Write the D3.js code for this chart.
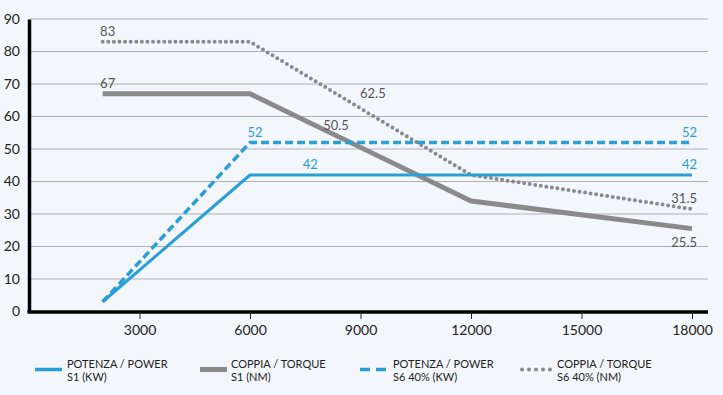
<!DOCTYPE html>
<html>
<head>
<meta charset="utf-8">
<script src="https://cdn.jsdelivr.net/npm/d3@7"></script>
<style>
  body { margin: 0; background: #f3f7fc; }
  text { font-family: "Lato", "Open Sans", sans-serif; }
</style>
</head>
<body>
<div id="chart"></div>
<script>
// speed values (rpm) and series
const rpm = [2000, 6000, 9000, 12000, 18000];
const powerS1 = [3, 42, 42, 42, 42];
const torqueS1 = [67, 67, 50.5, 34, 25.5];
const powerS6 = [3, 52, 52, 52, 52];
const torqueS6 = [83, 83, 62.5, 42, 31.5];

const xTicks = [3000, 6000, 9000, 12000, 15000, 18000];
const yTicks = [0, 10, 20, 30, 40, 50, 60, 70, 80, 90];

// value labels: [rpm, value, text, series]
const labels = [
  [2000, 83, "83", "t6"], [2000, 67, "67", "t1"],
  [6000, 52, "52", "p6"], [7500, 42, "42", "p1"],
  [8200, 50.5, "50.5", "t1"], [9200, 62.5, "62.5", "t6"],
  [18000, 52, "52", "p6"], [18000, 42, "42", "p1"],
  [18000, 31.5, "31.5", "t6"], [18000, 25.5, "25.5", "t1"]
];
// vertical label offsets in px (same order as labels)
const labelDy = [-6, -6, -6, -6, -17, -10, -6, -6, -6, 18];

const legendNames = [
  ["POTENZA / POWER", "S1 (KW)"],
  ["COPPIA / TORQUE", "S1 (NM)"],
  ["POTENZA / POWER", "S6 40% (KW)"],
  ["COPPIA / TORQUE", "S6 40% (NM)"]
];

const blue = "#2a9ed8", grey = "#8a8a8a";

const width = 723, height = 395;
const svg = d3.select("#chart").append("svg")
  .attr("width", width).attr("height", height);

const x = d3.scaleLinear().domain([0, 18000]).range([29, 692]);
const y = d3.scaleLinear().domain([0, 90]).range([311.5, 19]);

// grid lines
svg.append("g")
  .selectAll("line")
  .data(yTicks.slice(1))
  .enter().append("line")
    .attr("x1", 30).attr("x2", 708)
    .attr("y1", d => y(d)).attr("y2", d => y(d))
    .attr("stroke", "#aeb0b3").attr("stroke-width", 1);

// y axis
const yAxis = svg.append("g")
  .attr("transform", "translate(29,0)")
  .call(d3.axisLeft(y).tickValues(yTicks).tickSize(0).tickPadding(9));
yAxis.select(".domain").attr("stroke", "#000").attr("stroke-width", 3.5);
yAxis.selectAll("text").attr("font-size", 14).attr("fill", "#222");

// x axis
const xAxis = svg.append("g")
  .attr("transform", "translate(0,312)")
  .call(d3.axisBottom(x).tickValues(xTicks).tickSize(7).tickPadding(6).tickFormat(d3.format("d")));
xAxis.select(".domain").attr("d", "M27.5,0H708").attr("stroke", "#000").attr("stroke-width", 3.5);
xAxis.selectAll(".tick line").attr("stroke", "#222");
xAxis.selectAll("text").attr("font-size", 14).attr("fill", "#222");

const line = d3.line().x(d => x(d[0])).y(d => y(d[1]));
const zip = vals => rpm.map((r, i) => [r, vals[i]]);

const series = [
  { vals: torqueS1, color: grey, w: 5, dash: null },
  { vals: torqueS6, color: grey, w: 4, dash: "0,5.6" },
  { vals: powerS1, color: blue, w: 3, dash: null },
  { vals: powerS6, color: blue, w: 3.5, dash: "8,4" }
];

svg.append("g")
  .selectAll("path")
  .data(series)
  .enter().append("path")
    .attr("d", d => line(zip(d.vals)))
    .attr("fill", "none")
    .attr("stroke", d => d.color)
    .attr("stroke-width", d => d.w)
    .attr("stroke-dasharray", d => d.dash)
    .attr("stroke-linecap", d => d.dash && d.dash.startsWith("0") ? "round" : "butt")
    .attr("stroke-linejoin", "round");

// value labels
svg.append("g")
  .selectAll("text")
  .data(labels)
  .enter().append("text")
    .attr("x", d => x(d[0]) + 5)
    .attr("y", (d, i) => y(d[1]) + labelDy[i])
    .attr("text-anchor", d => d[0] === 18000 ? "end" : "middle")
    .attr("font-size", 13)
    .attr("fill", d => d[3].startsWith("p") ? blue : "#555")
    .text(d => d[2]);

// legend
const legendX = [35, 200, 360, 520];
const leg = svg.append("g")
  .selectAll("g")
  .data(legendNames)
  .enter().append("g")
    .attr("transform", (d, i) => "translate(" + legendX[i] + ",369.5)");

leg.append("line")
  .attr("x1", (d, i) => i === 3 ? 2 : 0)
  .attr("x2", (d, i) => i === 3 ? 31 : 27)
  .attr("stroke", (d, i) => i % 2 === 0 ? blue : grey)
  .attr("stroke-width", (d, i) => i === 1 ? 5 : (i === 3 ? 4 : 3.5))
  .attr("stroke-dasharray", (d, i) => i === 2 ? "10,6" : (i === 3 ? "0,7" : null))
  .attr("stroke-linecap", (d, i) => i === 3 ? "round" : "butt");

const textX = [32, 31, 33, 37];
leg.append("text")
  .attr("x", (d, i) => textX[i])
  .attr("y", -1.5)
  .attr("font-size", 11)
  .attr("fill", "#222")
  .text(d => d[0]);
leg.append("text")
  .attr("x", (d, i) => textX[i])
  .attr("y", 11)
  .attr("font-size", 11)
  .attr("fill", "#222")
  .text(d => d[1]);
</script>
</body>
</html>
